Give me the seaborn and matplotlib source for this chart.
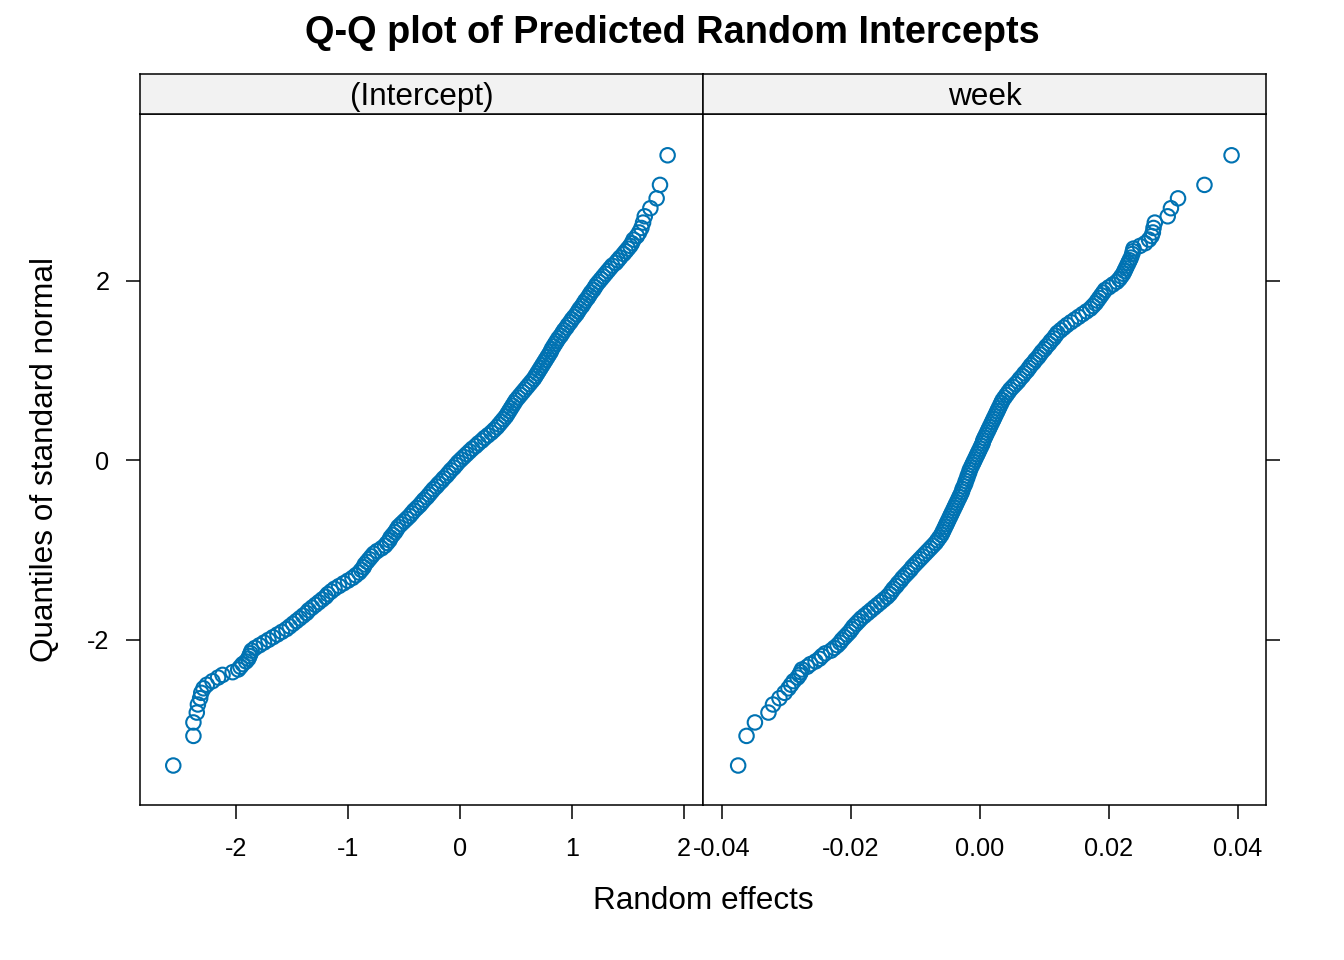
"""
Q-Q plot of predicted random intercepts / slopes (two panels, lattice look)
"""

import numpy as np
import pandas as pd
import matplotlib
matplotlib.use("Agg")
import matplotlib.pyplot as plt
import seaborn as sns

# quantiles of standard normal (same for both panels)
theo_q = [
    -3.40, -3.07, -2.92, -2.81, -2.72, -2.65, -2.59, -2.54, -2.50, -2.46,
    -2.42, -2.39, -2.36, -2.33, -2.30, -2.27, -2.24, -2.21, -2.18, -2.15,
    -2.12, -2.09, -2.06, -2.03,
    -2.00, -1.97, -1.94, -1.91, -1.88, -1.85, -1.82, -1.79, -1.76, -1.73,
    -1.70, -1.67, -1.64, -1.61, -1.58, -1.55, -1.52, -1.49, -1.46, -1.43,
    -1.40, -1.37, -1.34, -1.31, -1.28, -1.25, -1.22, -1.19, -1.16, -1.13,
    -1.10, -1.07, -1.04, -1.01, -0.98, -0.95, -0.92, -0.89, -0.86, -0.83,
    -0.80, -0.77, -0.74, -0.71, -0.68, -0.65, -0.62, -0.59, -0.56, -0.53,
    -0.50, -0.47, -0.44, -0.41, -0.38, -0.35, -0.32, -0.29, -0.26, -0.23,
    -0.20, -0.17, -0.14, -0.11, -0.08, -0.05, -0.02, 0.01, 0.04, 0.07,
    0.10, 0.13, 0.16, 0.19, 0.22, 0.25, 0.28, 0.31, 0.34, 0.37,
    0.40, 0.43, 0.46, 0.49, 0.52, 0.55, 0.58, 0.61, 0.64, 0.67,
    0.70, 0.73, 0.76, 0.79, 0.82, 0.85, 0.88, 0.91, 0.94, 0.97,
    1.00, 1.03, 1.06, 1.09, 1.12, 1.15, 1.18, 1.21, 1.24, 1.27,
    1.30, 1.33, 1.36, 1.39, 1.42, 1.45, 1.48, 1.51, 1.54, 1.57,
    1.60, 1.63, 1.66, 1.69, 1.72, 1.75, 1.78, 1.81, 1.84, 1.87,
    1.90, 1.93, 1.96, 1.99, 2.02, 2.05, 2.08, 2.11, 2.14, 2.17,
    2.20, 2.23, 2.26,
    2.30, 2.33, 2.36, 2.39, 2.42, 2.46, 2.50, 2.54, 2.59, 2.65,
    2.72, 2.81, 2.92, 3.07, 3.40,
]

# predicted random intercepts, sorted
re_intercept = [
    -2.56, -2.38, -2.38, -2.35, -2.34, -2.32, -2.31, -2.29, -2.26, -2.21,
    -2.16, -2.12, -2.03, -1.98, -1.96, -1.94, -1.91, -1.89, -1.88, -1.87,
    -1.86, -1.83, -1.79, -1.75,
    -1.71, -1.67, -1.63, -1.59, -1.55, -1.52, -1.49, -1.46, -1.43, -1.40,
    -1.37, -1.35, -1.32, -1.29, -1.26, -1.23, -1.20, -1.18, -1.15, -1.12,
    -1.08, -1.04, -1.00, -0.96, -0.93, -0.90, -0.88, -0.86, -0.85, -0.83,
    -0.81, -0.79, -0.77, -0.74, -0.70, -0.67, -0.65, -0.63, -0.62, -0.60,
    -0.58, -0.565, -0.55, -0.525, -0.50, -0.475, -0.45, -0.43, -0.41, -0.385,
    -0.36, -0.34, -0.32, -0.295, -0.275, -0.255, -0.235, -0.21, -0.19, -0.165,
    -0.145, -0.12, -0.10, -0.08, -0.055, -0.035, -0.015, 0.01, 0.035, 0.06,
    0.085, 0.11, 0.14, 0.165, 0.195, 0.22, 0.25, 0.28, 0.305, 0.33,
    0.35, 0.37, 0.39, 0.41, 0.425, 0.44, 0.455, 0.47, 0.485, 0.50,
    0.52, 0.54, 0.56, 0.58, 0.60, 0.62, 0.64, 0.66, 0.675, 0.69,
    0.705, 0.72, 0.735, 0.75, 0.765, 0.78, 0.795, 0.81, 0.82, 0.835,
    0.85, 0.865, 0.88, 0.90, 0.915, 0.93, 0.95, 0.965, 0.985, 1.00,
    1.02, 1.04, 1.055, 1.07, 1.09, 1.105, 1.12, 1.14, 1.155, 1.17,
    1.19, 1.205, 1.22, 1.24, 1.26, 1.28, 1.30, 1.32, 1.34, 1.36,
    1.39, 1.41, 1.43,
    1.46, 1.48, 1.50, 1.52, 1.535, 1.55, 1.58, 1.60, 1.62, 1.635,
    1.65, 1.70, 1.756, 1.786, 1.854,
]

# predicted random slopes for week, sorted
re_week = [
    -0.0375, -0.0362, -0.0349, -0.0328, -0.0321, -0.0311, -0.0303, -0.0297, -0.0293, -0.0289,
    -0.0283, -0.0280, -0.0278, -0.0276, -0.0268, -0.0263, -0.0255, -0.0249, -0.0245, -0.0240,
    -0.0231, -0.0226, -0.0221, -0.0217,
    -0.0214, -0.0210, -0.0206, -0.0202, -0.0199, -0.0196, -0.0192, -0.0188, -0.0184, -0.0179,
    -0.0174, -0.0169, -0.0164, -0.0159, -0.0154, -0.0149, -0.0144, -0.0140, -0.0137, -0.0134,
    -0.0130, -0.0127, -0.0123, -0.0120, -0.0116, -0.0112, -0.0108, -0.0105, -0.0101, -0.0097,
    -0.0093, -0.0089, -0.0085, -0.0081, -0.0077, -0.0073, -0.0069, -0.0066, -0.0063, -0.0060,
    -0.0058, -0.0056, -0.0054, -0.0052, -0.0050, -0.0048, -0.0046, -0.0044, -0.0042, -0.0040,
    -0.0038, -0.0036, -0.0034, -0.0032, -0.0030, -0.0028, -0.0027, -0.0025, -0.0023, -0.0022,
    -0.0020, -0.0019, -0.0017, -0.0016, -0.0014, -0.0012, -0.0010, -0.0008, -0.0006, -0.0004,
    -0.0002, 0.0000, 0.0002, 0.0004, 0.0005, 0.0007, 0.0009, 0.0011, 0.0013, 0.0015,
    0.0017, 0.0019, 0.0021, 0.0023, 0.0025, 0.0027, 0.0029, 0.0031, 0.0033, 0.0035,
    0.0038, 0.0041, 0.0044, 0.0047, 0.0051, 0.0055, 0.0059, 0.0062, 0.0066, 0.0069,
    0.0073, 0.0076, 0.0079, 0.0083, 0.0086, 0.0090, 0.0093, 0.0096, 0.0100, 0.0103,
    0.0107, 0.0110, 0.0114, 0.0117, 0.0120, 0.0125, 0.0130, 0.0135, 0.0141, 0.0147,
    0.0153, 0.0159, 0.0165, 0.0171, 0.0175, 0.0179, 0.0182, 0.0185, 0.0188, 0.0191,
    0.0194, 0.0200, 0.0206, 0.0212, 0.0216, 0.0219, 0.0222, 0.0224, 0.0226, 0.0228,
    0.0230, 0.0232, 0.0234,
    0.0236, 0.0237, 0.0238, 0.0248, 0.0256, 0.0262, 0.0266, 0.0268, 0.0269, 0.0271,
    0.0291, 0.0296, 0.0307, 0.0348, 0.0390,
]

panel_names = ["(Intercept)", "week"]
x_ticks_int = [-2, -1, 0, 1, 2]
x_ticks_week = [-0.04, -0.02, 0.00, 0.02, 0.04]
x_labels_week = ["-0.04", "-0.02", "0.00", "0.02", "0.04"]
y_ticks = [-2, 0, 2]

point_col = "#0072B2"
strip_col = "#F2F2F2"

sns.set_theme(style="white")
plt.rcParams["font.family"] = ["Liberation Sans", "DejaVu Sans"]
plt.rcParams["axes.unicode_minus"] = False
plt.rcParams["text.color"] = "black"
plt.rcParams["xtick.color"] = "black"
plt.rcParams["ytick.color"] = "black"
plt.rcParams["axes.labelcolor"] = "black"

df = pd.DataFrame({
    "effect": re_intercept + re_week,
    "quantile": theo_q + theo_q,
    "term": [panel_names[0]] * len(theo_q) + [panel_names[1]] * len(theo_q),
})

W, H = 1344, 960
fig = plt.figure(figsize=(W / 100, H / 100), dpi=100)


def box(x0, y0, x1, y1):
    # pixel box (top-left origin) -> figure fraction rect
    return [x0 / W, 1 - y1 / H, (x1 - x0) / W, (y1 - y0) / H]


ax_l = fig.add_axes(box(140, 114, 703, 805))
ax_r = fig.add_axes(box(703, 114, 1266, 805))
strip_l = fig.add_axes(box(140, 74, 703, 114))
strip_r = fig.add_axes(box(703, 74, 1266, 114))

tick_fs = 18.2
lab_fs = 22.7

for ax, name in zip([ax_l, ax_r], panel_names):
    sns.scatterplot(data=df[df["term"] == name], x="effect", y="quantile", ax=ax,
                    marker="o", s=108, color=point_col, facecolor="none",
                    edgecolor=point_col, linewidth=1.5, legend=False, zorder=3)
    ax.set_xlabel("")
    ax.set_ylabel("")
    ax.set_ylim(-3.84, 3.86)
    ax.set_yticks(y_ticks)
    for sp in ax.spines.values():
        sp.set_visible(True)
        sp.set_color("black")
        sp.set_linewidth(1.1)
    ax.tick_params(axis="both", direction="out", length=10, width=1.1,
                   color="black", labelcolor="black", labelsize=tick_fs, pad=13)

ax_l.set_xlim(-2.857, 2.17)
ax_l.set_xticks(x_ticks_int)
ax_l.set_xticklabels([str(t) for t in x_ticks_int])
ax_l.set_yticklabels([str(t) for t in y_ticks])
ax_l.tick_params(axis="x", bottom=True, top=False)
ax_l.tick_params(axis="y", left=True, right=False, labelleft=True, pad=12)

ax_r.set_xlim(-0.04295, 0.04434)
ax_r.set_xticks(x_ticks_week)
ax_r.set_xticklabels(x_labels_week)
ax_r.tick_params(axis="x", bottom=True, top=False)
ax_r.yaxis.tick_right()
ax_r.tick_params(axis="y", left=False, right=True, labelleft=False, labelright=False)

for st, name in zip([strip_l, strip_r], panel_names):
    st.set_facecolor(strip_col)
    st.set_xticks([])
    st.set_yticks([])
    for sp in st.spines.values():
        sp.set_visible(True)
        sp.set_color("black")
        sp.set_linewidth(1.1)
    st.text(0.5, 0.42, name, ha="center", va="center", fontsize=lab_fs,
            color="black", transform=st.transAxes)

fig.text(0.5, 1 - 33 / H, "Q-Q plot of Predicted Random Intercepts",
         ha="center", va="center", fontsize=27.3, fontweight="bold", color="black")
fig.text(703 / W, 1 - 901 / H, "Random effects", ha="center", va="center",
         fontsize=lab_fs, color="black")
fig.text(45 / W, 1 - 460 / H, "Quantiles of standard normal", ha="center",
         va="center", rotation=90, fontsize=lab_fs, color="black")

fig.savefig("out.png", dpi=100)
